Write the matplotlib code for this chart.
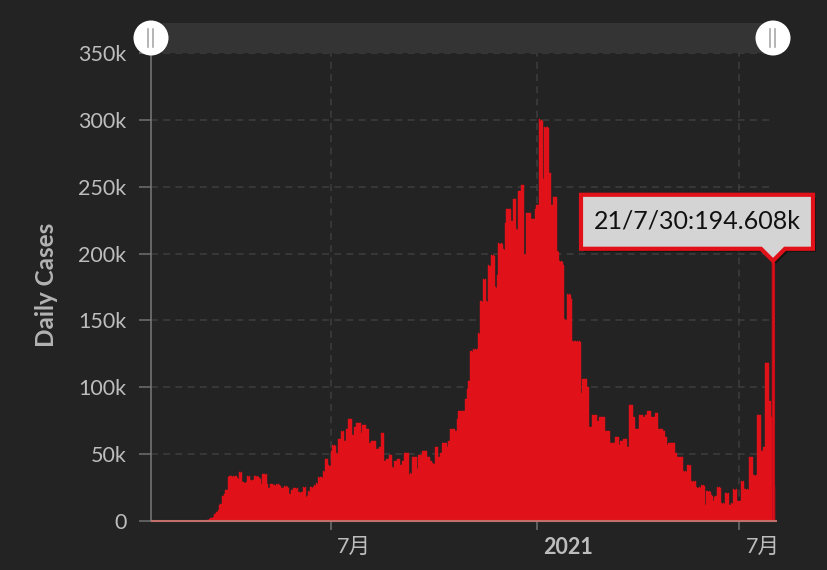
import numpy as np
import pandas as pd
import matplotlib
matplotlib.use("Agg")
import matplotlib.pyplot as plt
import matplotlib.transforms as mtransforms
from matplotlib.patches import Rectangle, Circle, Polygon

# daily new cases, in thousands, one list per month (2020-01-22 .. 2021-07-31)
jan_2020 = [0.001, 0, 0.001, 0, 0.003, 0, 0, 0, 0, 0.002]
feb_2020 = [0.001, 0, 0, 0, 0, 0, 0, 0, 0, 0, 0.001, 0, 0, 0, 0, 0, 0, 0, 0, 0,
            0.019, 0, 0, 0, 0, 0.001, 0, 0.003, 0.008]
mar_2020 = [0.007, 0.023, 0.019, 0.033, 0.077, 0.053, 0.166, 0.116, 0.075, 0.188, 0.365, 0.439,
            1.5, 2.0, 2.0, 2.5, 3.0, 5.0, 5.5, 7.0, 8.0, 12.0, 12.7, 13.0, 18.6, 19.0, 20.0,
            23.0, 23.0, 33.0, 33.6]
apr_2020 = [33.6, 34.0, 33.2, 33.6, 33.0, 33.6, 32.0, 31.5, 36.6, 36.0, 36.4, 29.0, 29.4, 28.6,
            29.0, 33.6, 33.0, 33.4, 30.6, 30.0, 30.4, 30.6, 33.6, 33.0, 33.6, 33.2, 32.0, 31.6,
            27.6, 35.0]
may_2020 = [35.0, 34.5, 35.0, 27.6, 24.6, 24.4, 27.6, 27.4, 27.6, 27.0, 26.0, 27.6, 27.0, 27.6,
            27.2, 26.0, 24.6, 24.4, 26.0, 25.8, 26.0, 25.6, 24.6, 20.0, 20.5, 23.0, 24.6, 24.4,
            24.6, 24.0, 24.6]
jun_2020 = [21.6, 21.4, 21.0, 21.4, 25.4, 25.0, 25.4, 18.0, 18.5, 22.4, 22.0, 25.4, 25.0, 25.4,
            26.9, 26.5, 28.4, 28.0, 32.9, 32.5, 32.9, 32.0, 37.4, 37.0, 46.4, 46.0, 46.4, 41.9,
            41.5, 52.0]
jul_2020 = [56.5, 56.0, 56.5, 56.0, 50.5, 50.0, 61.3, 61.0, 67.0, 66.5, 67.0, 59.8, 59.5, 68.8,
            68.5, 76.2, 76.0, 76.2, 64.3, 64.0, 70.3, 70.0, 73.3, 73.0, 73.3, 73.0, 65.8, 71.8,
            71.5, 71.8, 71.5]
aug_2020 = [68.8, 68.5, 58.3, 58.0, 59.8, 59.5, 59.8, 59.5, 59.8, 53.8, 53.5, 55.3, 55.0, 65.8,
            65.5, 65.8, 44.9, 44.5, 46.4, 46.0, 49.4, 49.0, 49.4, 40.4, 40.0, 44.9, 44.5, 46.4,
            46.0, 46.4, 41.9]
sep_2020 = [41.9, 44.9, 44.5, 50.5, 51.0, 50.5, 51.0, 34.4, 35.9, 35.5, 47.9, 47.5, 47.9, 47.5,
            38.9, 49.4, 49.0, 49.4, 49.0, 52.4, 52.0, 52.4, 52.0, 47.9, 47.5, 47.9, 44.9, 44.5,
            43.4, 43.0]
oct_2020 = [55.3, 55.0, 55.3, 47.9, 47.5, 51.0, 50.5, 58.3, 58.0, 58.3, 58.0, 55.3, 59.8, 59.5,
            68.8, 68.5, 68.8, 68.5, 67.3, 67.0, 76.3, 82.3, 82.0, 82.3, 82.0, 82.3, 82.0, 91.2,
            91.0, 98.7, 104.7]
nov_2020 = [104.7, 127.0, 126.5, 128.6, 128.0, 128.6, 128.0, 128.6, 140.6, 140.0, 164.5, 164.0,
            181.0, 180.5, 181.0, 164.5, 164.0, 191.5, 191.0, 199.0, 198.5, 199.0, 198.5, 175.0,
            174.5, 184.0, 208.0, 207.5, 208.0, 207.5]
dec_2020 = [203.6, 203.0, 223.0, 233.4, 233.0, 233.4, 233.0, 224.4, 224.0, 240.8, 240.5, 240.8,
            218.5, 218.0, 246.8, 246.5, 251.3, 251.0, 251.3, 199.0, 199.5, 230.4, 230.0, 230.4,
            230.0, 225.9, 225.5, 225.9, 225.5, 233.4, 236.4]
jan_2021 = [236.4, 300.7, 299.5, 300.2, 299.0, 255.8, 294.7, 294.0, 294.7, 294.0, 260.3, 260.0,
            236.4, 236.0, 242.3, 242.0, 242.3, 202.0, 201.5, 194.5, 194.0, 194.5, 194.0, 191.5,
            151.0, 150.5, 169.4, 169.0, 169.4, 169.0, 166.0]
feb_2021 = [134.6, 134.2, 134.6, 134.2, 134.6, 134.2, 134.6, 134.2, 95.7, 106.2, 106.0, 106.2,
            106.0, 100.2, 100.0, 70.3, 70.0, 70.3, 79.3, 79.0, 79.3, 79.0, 74.8, 74.5, 77.8,
            77.5, 77.8, 77.5]
mar_2021 = [77.8, 67.3, 67.0, 67.3, 67.0, 67.3, 58.3, 58.0, 58.3, 58.0, 62.8, 62.5, 62.8, 62.5,
            56.8, 59.8, 59.5, 61.3, 61.0, 61.3, 61.0, 55.3, 55.0, 86.7, 86.5, 86.7, 77.8, 77.5,
            68.8, 68.5, 68.8]
apr_2021 = [68.8, 79.3, 79.0, 79.3, 77.8, 77.5, 79.3, 79.0, 82.3, 82.0, 82.3, 77.8, 77.5, 77.8,
            77.5, 80.8, 80.5, 80.8, 68.8, 68.5, 68.8, 68.5, 67.3, 67.0, 62.8, 62.5, 56.8, 58.3,
            58.0, 58.3]
may_2021 = [58.3, 58.0, 58.3, 50.9, 50.5, 47.9, 47.5, 47.9, 47.5, 47.9, 37.4, 37.0, 37.4, 37.0,
            41.9, 41.5, 41.9, 29.9, 29.5, 29.9, 29.5, 29.9, 25.4, 25.0, 25.4, 25.0, 26.9, 26.5,
            26.9, 26.5, 12.0]
jun_2021 = [22.4, 22.0, 22.4, 22.0, 19.4, 19.0, 15.0, 18.0, 18.5, 25.4, 25.0, 25.4, 25.0, 13.5,
            13.0, 13.5, 13.0, 20.9, 20.5, 20.9, 12.0, 12.2, 13.5, 13.0, 23.9, 23.5, 23.9, 15.0,
            15.2, 15.0]
jul_2021 = [15.0, 29.9, 29.5, 29.9, 23.9, 23.5, 23.9, 23.5, 47.9, 47.5, 47.9, 47.5, 34.4, 34.0,
            34.4, 79.3, 79.0, 79.3, 79.0, 52.4, 52.0, 55.3, 118.2, 118.0, 118.2, 118.0, 89.8,
            89.5, 77.8, 194.608, 25.4]

start_date = "2020-01-22"
y_ticks = [0, 50, 100, 150, 200, 250, 300, 350]
x_ticks = ["2020-07-01", "2021-01-01", "2021-07-01"]
x_labels = ["7月", "2021", "7月"]
highlight_date = "2021-07-30"

cases = np.array(jan_2020 + feb_2020 + mar_2020 + apr_2020 + may_2020 + jun_2020 + jul_2020
                 + aug_2020 + sep_2020 + oct_2020 + nov_2020 + dec_2020 + jan_2021 + feb_2021
                 + mar_2021 + apr_2021 + may_2021 + jun_2021 + jul_2021)
dates = pd.date_range(start_date, periods=len(cases), freq="D")

plt.rcParams["font.family"] = ["Lato", "Noto Sans CJK SC", "DejaVu Sans"]

bg = "#232323"
red = "#e1111a"
W, H = 828, 570

fig = plt.figure(figsize=(W / 100, H / 100), dpi=100, facecolor=bg)
ax = fig.add_axes([151 / W, 1 - 521 / H, (773 - 151) / W, (521 - 53) / H])
ax.set_facecolor(bg)

# bars drawn one day to the right of their date, as in the source chart
shifted = dates + pd.Timedelta(days=1)
ax.bar(shifted, cases, width=1.0, align="center", color=red, edgecolor=red,
       linewidth=0.3, zorder=3, clip_on=False)

hi = dates.get_loc(pd.Timestamp(highlight_date))
ax.bar(shifted[hi], cases[hi], width=2.6, align="center", color=red, edgecolor="#c40d16",
       linewidth=0.8, zorder=4, clip_on=False)

ax.set_xlim(dates[0], dates[-1])
ax.set_ylim(0, 350)

ax.set_yticks(y_ticks)
ax.set_yticklabels(["0" if v == 0 else f"{v}k" for v in y_ticks])
ax.set_xticks(pd.to_datetime(x_ticks))
ax.set_xticklabels(x_labels)

ax.tick_params(axis="y", length=8.6, width=1.1, color="#6f6f6f", pad=9,
               labelsize=15.5, labelcolor="#bdbdbd")
ax.tick_params(axis="x", length=6.5, width=1.1, color="#6f6f6f", pad=5,
               labelsize=15.5, labelcolor="#bdbdbd")
ax.get_xticklabels()[1].set_fontweight("bold")
shift = mtransforms.ScaledTranslation(0.06, 0, fig.dpi_scale_trans)
for lbl in ax.get_xticklabels():
    lbl.set_horizontalalignment("left")
    lbl.set_transform(lbl.get_transform() + shift)

ax.grid(True, color="#3e3e3e", linestyle=(0, (4.5, 3.5)), linewidth=1.1, zorder=0)
ax.set_axisbelow(True)

for s in ["top", "right", "bottom"]:
    ax.spines[s].set_visible(False)
ax.spines["left"].set_color("#7a7a7a")
ax.spines["left"].set_linewidth(1.1)
ax.plot([0, (777 - 151) / (773 - 151)], [0, 0], transform=ax.transAxes, color="#c4706a",
        linewidth=1.5, zorder=5, clip_on=False, solid_capstyle="butt")

fig.text(47 / W, 1 - 285 / H, "Daily Cases", rotation=90, ha="center", va="center",
         fontsize=17.5, fontweight="bold", color="#b3b3b3")

# overlay in pixel coordinates for slider and tooltip
ov = fig.add_axes([0, 0, 1, 1], zorder=10)
ov.set_xlim(0, W)
ov.set_ylim(H, 0)
ov.axis("off")
ov.patch.set_alpha(0)

# data zoom slider
ov.add_patch(Rectangle((151, 23), 773 - 151, 30, facecolor="#343434", edgecolor="none"))
for cx in (151, 773):
    ov.add_patch(Circle((cx, 38), 17.5, facecolor="white", edgecolor="none"))
    for dx in (-2.5, 2.5):
        ov.plot([cx + dx, cx + dx], [29, 47], color="#a0a0a0", linewidth=1.1)

# tooltip on the highlighted bar
tip_disp = ax.transData.transform((matplotlib.dates.date2num(shifted[hi]), cases[hi]))
tx, ty = ov.transData.inverted().transform(tip_disp)
left, right = tx - 192, tx + 40
top, bottom = ty - 66, ty - 12
pts = [(left, top), (right, top), (right, bottom), (tx + 12, bottom), (tx, ty),
       (tx - 12, bottom), (left, bottom)]
shadow = [(x + 3, y + 3) for x, y in pts]
ov.add_patch(Polygon(shadow, closed=True, facecolor="#000000", alpha=0.45, edgecolor="none"))
ov.add_patch(Polygon(pts, closed=True, facecolor="#d4d4d4", edgecolor=red, linewidth=3,
                     joinstyle="miter"))
d = dates[hi]
label = f"{d.year % 100}/{d.month}/{d.day}:{cases[hi]:.3f}k"
ov.text((left + right) / 2, (top + bottom) / 2 - 1, label, ha="center", va="center",
        fontsize=18, color="#111111")

fig.savefig("out.png", dpi=100, facecolor=bg)
